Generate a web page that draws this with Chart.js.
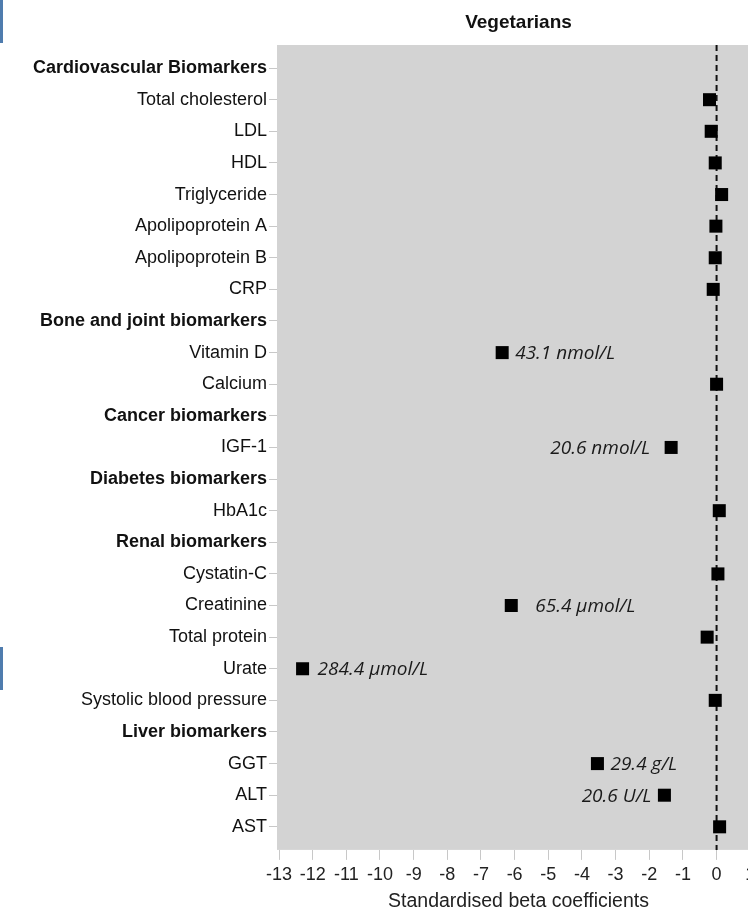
<!DOCTYPE html>
<html>
<head>
<meta charset="utf-8">
<script src="https://cdn.jsdelivr.net/npm/chart.js@4.4.1/dist/chart.umd.min.js"></script>
<style>
  html, body { margin: 0; padding: 0; background: #fff; overflow: hidden; }
  #wrap { position: relative; width: 770px; height: 911px; }
  .edge { position: absolute; left: 0; width: 3px; background: #4f7cae; }
</style>
</head>
<body>
<div id="wrap">
  <canvas id="myChart"></canvas>
</div>
<div class="edge" style="top:0;height:43px"></div>
<div class="edge" style="top:647px;height:43px"></div>
<script>
// rows of the y axis, top to bottom
const categories = [
  'Cardiovascular Biomarkers', 'Total cholesterol', 'LDL', 'HDL', 'Triglyceride',
  'Apolipoprotein A', 'Apolipoprotein B', 'CRP',
  'Bone and joint biomarkers', 'Vitamin D', 'Calcium',
  'Cancer biomarkers', 'IGF-1',
  'Diabetes biomarkers', 'HbA1c',
  'Renal biomarkers', 'Cystatin-C', 'Creatinine', 'Total protein', 'Urate', 'Systolic blood pressure',
  'Liver biomarkers', 'GGT', 'ALT', 'AST'
];
const isHeader = [
  true, false, false, false, false, false, false, false,
  true, false, false,
  true, false,
  true, false,
  true, false, false, false, false, false,
  true, false, false, false
];
// standardised beta coefficients (null = group header row)
const betaValues = [
  null, -0.21, -0.16, -0.04, 0.15, -0.02, -0.04, -0.10,
  null, -6.37, 0.00,
  null, -1.35,
  null, 0.08,
  null, 0.04, -6.10, -0.28, -12.30, -0.04,
  null, -3.54, -1.55, 0.09
];
// absolute differences written next to some markers
const diffLabels = [
  null, null, null, null, null, null, null, null,
  null, '43.1 nmol/L', null,
  null, '20.6 nmol/L',
  null, null,
  null, null, '65.4 \u00b5mol/L', null, '284.4 \u00b5mol/L', null,
  null, '29.4 g/L', '20.6 U/L', null
];
const xTickValues = [-13, -12, -11, -10, -9, -8, -7, -6, -5, -4, -3, -2, -1, 0, 1];

const points = [];
betaValues.forEach((v, i) => {
  if (v !== null) points.push({x: v, y: i});
});

const plotBg = {
  id: 'plotBg',
  beforeDraw(chart) {
    const {ctx, chartArea: a} = chart;
    ctx.save();
    ctx.fillStyle = '#d3d3d3';
    ctx.fillRect(a.left, a.top, a.right - a.left, a.bottom - a.top);
    ctx.restore();
  }
};

const zeroLine = {
  id: 'zeroLine',
  beforeDatasetsDraw(chart) {
    const {ctx, chartArea: a} = chart;
    const x = chart.scales.x.getPixelForValue(0);
    ctx.save();
    ctx.strokeStyle = '#111';
    ctx.lineWidth = 2;
    ctx.setLineDash([6, 4]);
    ctx.beginPath();
    ctx.moveTo(x, a.top);
    ctx.lineTo(x, a.bottom);
    ctx.stroke();
    ctx.restore();
  }
};

// side and gap of each text beside its marker
const labelPlace = {
  'Vitamin D': ['right', 13],
  'IGF-1': ['left', 21],
  'Creatinine': ['right', 24],
  'Urate': ['right', 15],
  'GGT': ['right', 13],
  'ALT': ['left', 13]
};

const diffText = {
  id: 'diffText',
  afterDatasetsDraw(chart) {
    const {ctx} = chart;
    ctx.save();
    ctx.font = 'italic 19px "Open Sans"';
    ctx.fillStyle = '#1a1a1a';
    ctx.textBaseline = 'middle';
    diffLabels.forEach((t, i) => {
      if (!t) return;
      const place = labelPlace[categories[i]] || ['right', 13];
      const x = chart.scales.x.getPixelForValue(betaValues[i]);
      const y = chart.scales.y.getPixelForValue(i);
      ctx.textAlign = place[0] === 'right' ? 'left' : 'right';
      ctx.fillText(t, place[0] === 'right' ? x + place[1] : x - place[1], y + 1);
    });
    ctx.restore();
  }
};

const ctx = document.getElementById('myChart').getContext('2d');

const myChart = new Chart(ctx, {
  type: 'scatter',
  data: {
    datasets: [{
      label: 'Vegetarians',
      data: points,
      pointStyle: 'rect',
      pointRadius: 9.2,
      pointHoverRadius: 9.2,
      backgroundColor: '#000000',
      borderWidth: 0
    }]
  },
  options: {
    responsive: true,
    maintainAspectRatio: false,
    animation: false,
    layout: {
      padding: {top: 0, left: 0, right: 10, bottom: 0}
    },
    plugins: {
      legend: { display: false },
      tooltip: { enabled: false },
      title: {
        display: true,
        text: 'Vegetarians',
        fullSize: false,
        color: '#111',
        font: { family: 'Liberation Sans', size: 19, weight: 'bold' },
        padding: { top: 11, bottom: 11.2 }
      }
    },
    scales: {
      x: {
        type: 'linear',
        min: -13.06,
        max: 1.29,
        afterBuildTicks: (scale) => {
          scale.ticks = xTickValues.map(v => ({value: v}));
        },
        border: { display: false },
        grid: {
          drawOnChartArea: false,
          drawTicks: true,
          tickLength: 10,
          color: '#c8c8c8'
        },
        ticks: {
          color: '#222',
          autoSkip: false,
          maxRotation: 0,
          padding: 4,
          font: { family: 'Liberation Sans', size: 18 }
        },
        title: {
          display: true,
          text: 'Standardised beta coefficients',
          color: '#222',
          font: { family: 'Liberation Sans', size: 19.5, lineHeight: 1 },
          padding: { top: 2, bottom: 0 }
        }
      },
      y: {
        type: 'linear',
        reverse: true,
        min: -0.73,
        max: 24.73,
        afterBuildTicks: (scale) => {
          scale.ticks = categories.map((c, i) => ({value: i}));
        },
        afterFit: (scale) => {
          scale.width = 277;
        },
        border: { display: false },
        grid: {
          drawOnChartArea: false,
          drawTicks: true,
          tickLength: 8,
          color: '#c8c8c8'
        },
        ticks: {
          color: '#111',
          autoSkip: false,
          padding: 2,
          callback: (v) => categories[v],
          font: (c) => ({
            family: 'Liberation Sans',
            size: 18,
            weight: isHeader[c.index] ? 'bold' : 'normal'
          })
        }
      }
    }
  },
  plugins: [plotBg, zeroLine, diffText]
});
</script>
</body>
</html>
